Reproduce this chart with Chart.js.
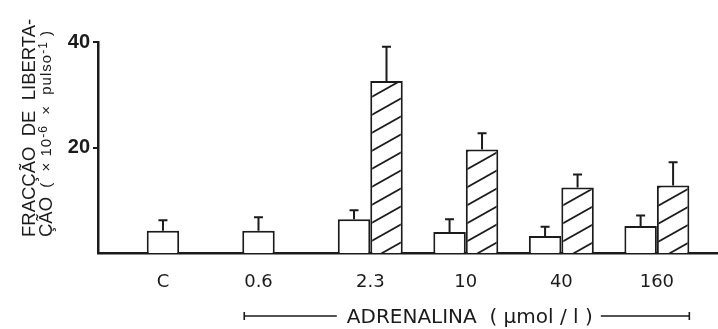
<!DOCTYPE html>
<html>
<head>
<meta charset="utf-8">
<script src="https://cdn.jsdelivr.net/npm/chart.js@4"></script>
<style>
  html, body { margin: 0; padding: 0; background: #fff; }
  #wrap { width: 718px; height: 329px; position: relative; }
</style>
</head>
<body>
<div id="wrap"><canvas id="c"></canvas></div>
<script>
// Adrenaline concentration groups (C = control)
const categories = ['C', '0.6', '2.3', '10', '40', '160'];

// Open bars: fractional release, mean and SD (×10⁻⁶ × pulse⁻¹)
const controlValues = [4.2, 4.2, 6.4, 4.0, 3.2, 5.1];
const controlSD     = [2.0, 2.6, 1.7, 2.4, 1.8, 2.0];

// Hatched bars: fractional release with adrenaline, mean and SD
const adrenalineValues = [null, null, 32.6, 19.6, 12.4, 12.8];
const adrenalineSD     = [null, null, 6.5, 3.1, 2.5, 4.4];

// Labelled y ticks
const yTicks = [20, 40];

const yTitleLine1 = 'FRACÇÃO  DE  LIBERTA-';
const yTitleLine2 = 'ÇÃO';
// unit text as [text, superscript?] runs
const yTitleUnit = [['(  × 10', false], ['-6', true], ['  ×  pulso', false], ['-1', true], [' )', false]];
const xTitle = 'ADRENALINA  ( µmol / l )';

const INK = '#1b1b1b';
const GROUP_FRACTION = 0.68;

const canvas = document.getElementById('c');
const ctx2d = canvas.getContext('2d');

// Diagonal "/" hatching tile, repeats seamlessly
function makeHatch() {
  const w = 32, h = 18;
  const tile = document.createElement('canvas');
  tile.width = w; tile.height = h;
  const g = tile.getContext('2d');
  g.fillStyle = '#fff';
  g.fillRect(0, 0, w, h);
  g.strokeStyle = INK;
  g.lineWidth = 1.8;
  for (let k = -1; k <= 1; k++) {
    g.beginPath();
    g.moveTo(-w, 2 * h + k * h);
    g.lineTo(2 * w, -h + k * h);
    g.stroke();
  }
  return ctx2d.createPattern(tile, 'repeat');
}

const toPoints = arr => arr.map((v, i) => ({ x: i, y: v }));

// Upward error bars with a short cap
const errorBars = {
  id: 'errorBars',
  afterDatasetsDraw(chart) {
    const ctx = chart.ctx;
    const yScale = chart.scales.y;
    chart.data.datasets.forEach((ds, di) => {
      const meta = chart.getDatasetMeta(di);
      meta.data.forEach((bar, i) => {
        const v = ds.data[i].y, e = ds.errors[i];
        if (v == null || e == null) return;
        const top = yScale.getPixelForValue(v + e);
        ctx.save();
        ctx.strokeStyle = INK;
        ctx.lineWidth = 2;
        ctx.beginPath();
        ctx.moveTo(bar.x, bar.y);
        ctx.lineTo(bar.x, top);
        ctx.moveTo(bar.x - 4.5, top);
        ctx.lineTo(bar.x + 4.5, top);
        ctx.stroke();
        ctx.restore();
      });
    });
  }
};

// Rotated two-line y title with a smaller unit part
const yTitle = {
  id: 'yTitle',
  afterDraw(chart) {
    const ctx = chart.ctx;
    const bottom = 237;
    const big = '18.5px "Liberation Sans", Arial, sans-serif';
    ctx.save();
    ctx.fillStyle = INK;
    ctx.textAlign = 'left';
    ctx.textBaseline = 'alphabetic';
    ctx.translate(35, bottom);
    ctx.rotate(-Math.PI / 2);
    ctx.font = big;
    ctx.fillText(yTitleLine1, 0, 0);
    ctx.restore();

    ctx.save();
    ctx.fillStyle = INK;
    ctx.textAlign = 'left';
    ctx.textBaseline = 'alphabetic';
    ctx.translate(52, bottom);
    ctx.rotate(-Math.PI / 2);
    ctx.font = big;
    ctx.fillText(yTitleLine2, 0, 0);
    let x = ctx.measureText(yTitleLine2 + ' ').width + 4;
    ctx.letterSpacing = '1px';
    yTitleUnit.forEach(([t, sup]) => {
      ctx.font = (sup ? '12px' : '15px') + ' "Liberation Sans", Arial, sans-serif';
      ctx.fillText(t, x, sup ? -5 : -1);
      x += ctx.measureText(t).width;
    });
    ctx.restore();
  }
};

// Bracket spanning the adrenaline groups, with its title in the middle
const xBracket = {
  id: 'xBracket',
  afterDraw(chart) {
    const ctx = chart.ctx;
    const open = chart.getDatasetMeta(0).data;
    const hatched = chart.getDatasetMeta(1).data;
    const first = open[1], last = hatched[hatched.length - 1];
    const left = first.x - first.width / 2 + 2;
    const right = last.x + last.width / 2;
    const y = 316;
    ctx.save();
    ctx.font = '20px "DejaVu Sans", sans-serif';
    ctx.fillStyle = INK;
    ctx.textAlign = 'center';
    ctx.textBaseline = 'alphabetic';
    const mid = (left + right) / 2 + 3;
    const tw = ctx.measureText(xTitle).width;
    ctx.fillText(xTitle, mid, y + 7);
    ctx.strokeStyle = INK;
    ctx.lineWidth = 1.6;
    ctx.beginPath();
    ctx.moveTo(left, y); ctx.lineTo(mid - tw / 2 - 10, y);
    ctx.moveTo(mid + tw / 2 + 8, y); ctx.lineTo(right, y);
    ctx.moveTo(left, y - 4); ctx.lineTo(left, y + 4);
    ctx.moveTo(right, y - 4); ctx.lineTo(right, y + 4);
    ctx.stroke();
    ctx.restore();
  }
};

new Chart(canvas, {
  type: 'bar',
  data: {
    datasets: [
      {
        data: toPoints(controlValues),
        errors: controlSD,
        backgroundColor: '#fff',
        borderColor: INK,
        borderWidth: 2,
        borderSkipped: 'bottom'
      },
      {
        data: toPoints(adrenalineValues),
        errors: adrenalineSD,
        backgroundColor: makeHatch(),
        borderColor: INK,
        borderWidth: 2,
        borderSkipped: 'bottom'
      }
    ]
  },
  options: {
    responsive: true,
    maintainAspectRatio: false,
    animation: false,
    events: [],
    categoryPercentage: GROUP_FRACTION,
    barPercentage: 1,
    layout: { padding: { left: 0, right: 0, top: 42, bottom: 0 } },
    plugins: { legend: { display: false }, tooltip: { enabled: false } },
    scales: {
      x: {
        type: 'linear',
        offset: false,
        min: -0.85,
        max: 5.64,
        grid: { display: false, drawTicks: false, offset: false },
        border: { display: true, color: INK, width: 2.5 },
        afterBuildTicks(scale) {
          // single-bar groups are labelled under their bar, pairs under the pair
          scale.ticks = categories.map((c, i) => ({
            value: adrenalineValues[i] == null ? i - GROUP_FRACTION / 4 : i
          }));
        },
        afterFit(scale) { scale.height = 76; },
        ticks: {
          autoSkip: false,
          maxRotation: 0,
          padding: 19,
          color: INK,
          font: { family: '"DejaVu Sans", sans-serif', size: 18 },
          callback: (v, i) => categories[i]
        }
      },
      y: {
        min: 0,
        max: 40,
        grid: { display: true, drawOnChartArea: false, drawTicks: true, tickLength: 5, color: INK, lineWidth: 2 },
        border: { display: true, color: INK, width: 2.5 },
        afterBuildTicks(scale) {
          scale.ticks = yTicks.map(v => ({ value: v }));
        },
        afterFit(scale) { scale.width = 98; },
        ticks: {
          padding: 3,
          color: INK,
          font: { family: '"Liberation Sans", Arial, sans-serif', size: 20, weight: 'bold' }
        }
      }
    }
  },
  plugins: [errorBars, yTitle, xBracket]
});
</script>
</body>
</html>
